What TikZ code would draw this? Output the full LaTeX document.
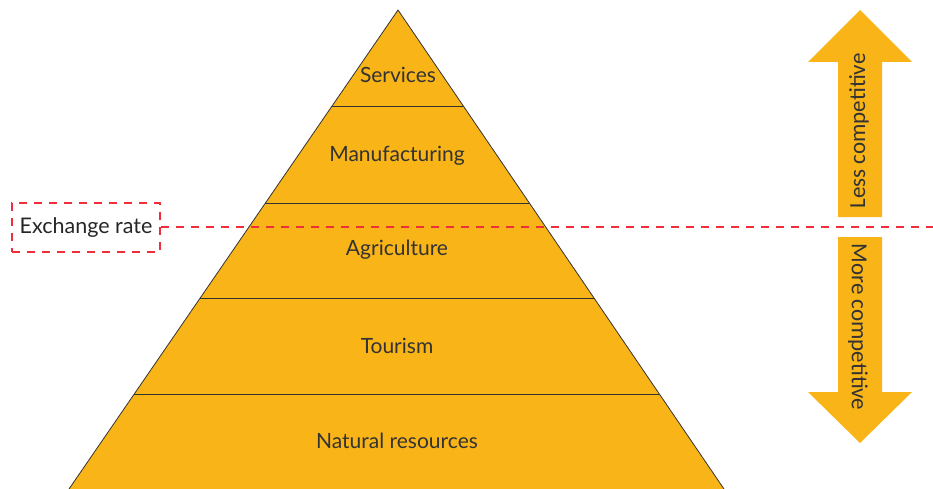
\documentclass[tikz,border=0pt]{standalone}
\usepackage{fontspec}
\setmainfont{Lato}
\newfontfamily\calib{Carlito}
\usetikzlibrary{calc}
\definecolor{pyr}{HTML}{F9B418}
\definecolor{dred}{HTML}{EE2E3A}
\definecolor{txt}{HTML}{333333}
\tikzset{
  band/.style={fill=pyr, draw=black!80, line width=0.8pt},
  lbl/.style={font=\fontsize{21}{23}\selectfont, text=txt},
  arrlbl/.style={font=\calib\fontsize{23}{25}\selectfont, text=txt},
  redd/.style={draw=dred, line width=2pt, dash pattern=on 8pt off 7pt},
  bigarrow/.style={fill=pyr, draw=none}
}
\begin{document}
\begin{tikzpicture}[x=1pt,y=-1pt]
\useasboundingbox (0,0) rectangle (933,489);
% pyramid
\coordinate (apex) at (398,10);
\coordinate (bl) at (69,489);
\coordinate (br) at (724,489);
\fill[pyr] (apex) -- (bl) -- (br) -- cycle;
\foreach \y in {106,203,298,394}{
  \draw[black!80, line width=0.8pt] ($(apex)!{(\y-10)/479}!(bl)$) -- ($(apex)!{(\y-10)/479}!(br)$);
}
\draw[black!80, line width=0.8pt] (bl) -- (apex) -- (br);
\node[lbl] (serv) at (398,75) {Services};
\node[lbl] (manu) at (397,156) {Manufacturing};
\node[lbl] (agri) at (397,250) {Agriculture};
\node[lbl] (tour) at (397,346) {Tourism};
\node[lbl] (nat) at (397,441) {Natural resources};
% exchange rate
\node[lbl, redd, draw, minimum width=148pt, minimum height=49pt, inner sep=2pt, font=\fontsize{21.5}{23}\selectfont, text=black!85] (ex) at (86,227.5) {Exchange rate};
\coordinate (exend) at (933,227);
\draw[redd] (ex.east |- exend) -- (exend);
% arrows
\fill[bigarrow] (860,10) -- (912,62) -- (882,62) -- (882,217) -- (838,217) -- (838,62) -- (808,62) -- cycle;
\fill[bigarrow] (860,443) -- (912,392) -- (882,392) -- (882,237) -- (838,237) -- (838,392) -- (808,392) -- cycle;
\node[arrlbl, rotate=90] (less) at (859,131) {Less competitive};
\node[arrlbl, rotate=-90] (more) at (858,327) {More competitive};
\end{tikzpicture}
\end{document}
